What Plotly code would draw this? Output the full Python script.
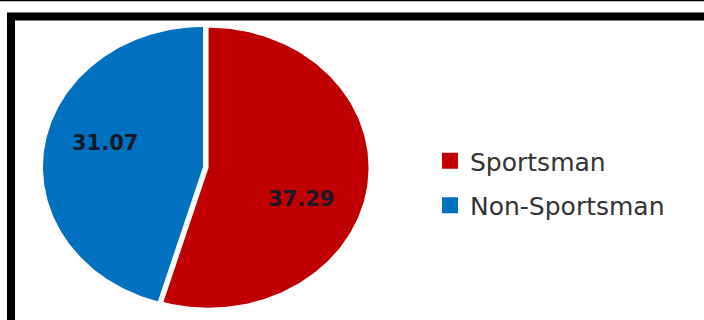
import numpy as np
import plotly.graph_objects as go

# Share of respondents by group
categories = ["Sportsman", "Non-Sportsman"]
values = [37.29, 31.07]
value_labels = ["37.29", "31.07"]

colors = ["#C00000", "#0070C0"]
pull = [0.035, 0.0]             # fraction of radius each slice is pulled out
label_radius = 0.62
label_shift_px = [(-6, -19), (0, 12)]   # (x, y) nudge for each value label

fig = go.Figure()

total = sum(values)
start = 0.0
for name, val, lab, col, pl, (xsh, ysh) in zip(categories, values, value_labels,
                                               colors, pull, label_shift_px):
    frac = val / total
    a0, a1 = start * 2 * np.pi, (start + frac) * 2 * np.pi
    mid = (a0 + a1) / 2
    # angles measured clockwise from 12 o'clock on a unit circle
    t = np.linspace(a0, a1, 200)
    ox, oy = pl * np.sin(mid), pl * np.cos(mid)
    xs = np.concatenate([[ox], ox + np.sin(t), [ox]])
    ys = np.concatenate([[oy], oy + np.cos(t), [oy]])
    fig.add_trace(go.Scatter(
        x=xs, y=ys, mode="lines", fill="toself", fillcolor=col,
        line=dict(width=0, color=col), showlegend=False,
        hoverinfo="text", text=f"{name}: {lab}", hoveron="fills",
    ))
    fig.add_annotation(
        x=ox + label_radius * np.sin(mid), y=oy + label_radius * np.cos(mid),
        text=lab, showarrow=False, xshift=xsh, yshift=ysh,
        font=dict(family="DejaVu Sans", size=21, color="#161a26", weight="bold"),
    )
    start += frac

# legend entries
for i, (name, col) in enumerate(zip(categories, colors)):
    fig.add_trace(go.Scatter(
        x=[None], y=[None], mode="markers", name=name, legendgroup=f"g{i}",
        marker=dict(symbol="square", size=16, color=col),
    ))

# unit-circle axes stretched so the pie renders as a wide ellipse
W, H = 704, 320
cx, cy, rx, ry = 203, 167, 160, 140

fig.update_xaxes(range=[-cx / rx, (W - cx) / rx], visible=False, fixedrange=True)
fig.update_yaxes(range=[(cy - H) / ry, cy / ry], visible=False, fixedrange=True)

fig.update_layout(
    width=W, height=H,
    margin=dict(l=0, r=0, t=0, b=0),
    paper_bgcolor="white", plot_bgcolor="white",
    showlegend=True,
    legend=dict(
        x=430 / W, y=1 - 183 / H, xanchor="left", yanchor="middle",
        font=dict(family="DejaVu Sans", size=25, color="#333333"),
        tracegroupgap=9, bgcolor="rgba(0,0,0,0)",
    ),
    shapes=[
        # thick frame running off the right and bottom edges
        dict(type="rect", xref="paper", yref="paper",
             x0=11 / W, x1=1.05, y0=-0.05, y1=1 - 16.5 / H,
             line=dict(color="black", width=8), fillcolor="rgba(0,0,0,0)"),
        # thin rule along the very top
        dict(type="line", xref="paper", yref="paper",
             x0=0, x1=1, y0=1 - 0.6 / H, y1=1 - 0.6 / H,
             line=dict(color="black", width=1.5)),
    ],
)

fig.write_html("out.html")
